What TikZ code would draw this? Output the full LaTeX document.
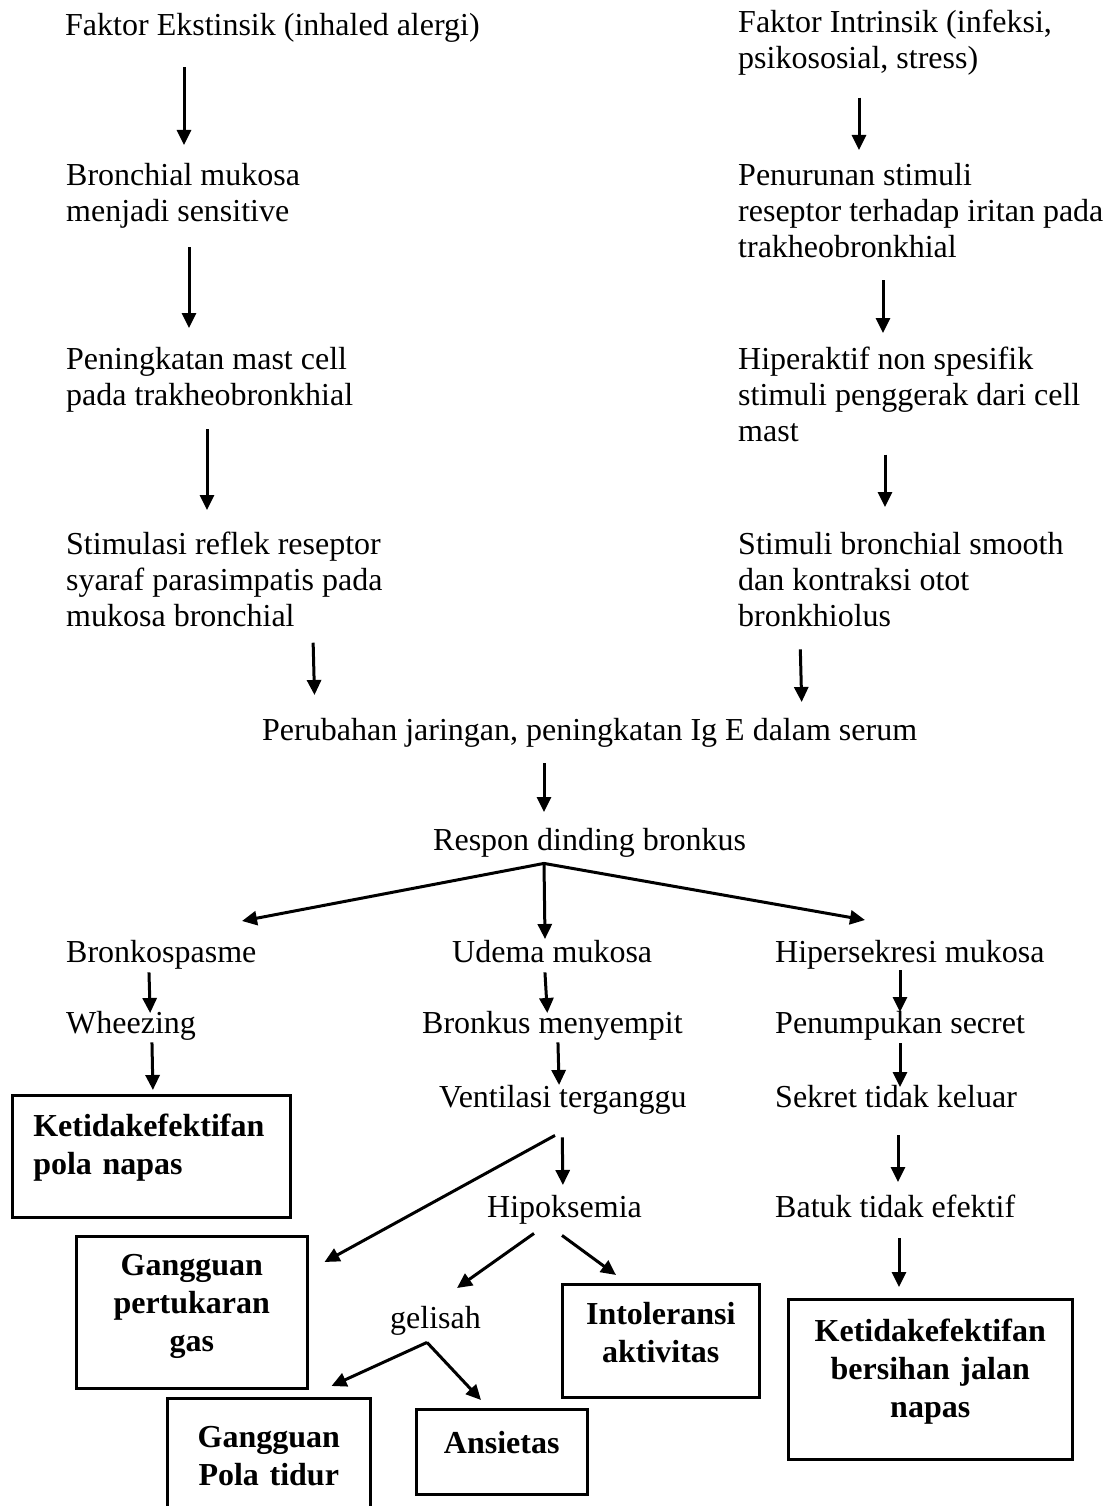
\documentclass[tikz,border=0pt]{standalone}
\usepackage{fontspec}
\setmainfont{Liberation Serif}
\usetikzlibrary{arrows.meta,calc}
\newcommand{\txtfont}{\fontsize{32}{36}\selectfont}
\newcommand{\boxfont}{\fontsize{32}{38}\selectfont\bfseries}
\tikzset{
  txt/.style={anchor=north west, inner sep=0pt, align=left, font=\txtfont,
    execute at begin node=\strut, execute at end node=\strut},
  diag/.style={draw, line width=2.5pt, anchor=north west, inner sep=0pt,
    align=center, font=\boxfont},
  arr/.style={line width=3pt, -{Triangle[length=15pt,width=14pt]}},
  gap/.style 2 args={shorten <=#1pt, shorten >=#2pt}
}
\begin{document}
\begin{tikzpicture}[x=1pt,y=-1pt]
\path[use as bounding box, fill=white] (0,0) rectangle (1113,1506);
% left column
\node[txt] (ext) at (65,9.8) {Faktor Ekstinsik (inhaled alergi)};
\node[txt] (bron) at (66,162.8) {Bronchial mukosa\\menjadi sensitive};
\node[txt] (mast) at (66,346.8) {Peningkatan mast cell\\pada trakheobronkhial};
\node[txt] (stim) at (66,531.8) {Stimulasi reflek reseptor\\syaraf parasimpatis pada\\mukosa bronchial};
% right column
\node[txt] (int) at (738,9.8) {Faktor Intrinsik (infeksi,\\psikososial, stress)};
\node[txt] (turun) at (738,162.8) {Penurunan stimuli\\reseptor terhadap iritan pada\\trakheobronkhial};
\node[txt] (hiper) at (738,346.8) {Hiperaktif non spesifik\\stimuli penggerak dari cell\\mast};
\node[txt] (smooth) at (738,531.8) {Stimuli bronchial smooth\\dan kontraksi otot\\bronkhiolus};
% middle
\node[txt] (ige) at (262,714.8) {Perubahan jaringan, peningkatan Ig E dalam serum};
\node[txt] (respon) at (433,824.8) {Respon dinding bronkus};
\node[txt] (spasme) at (66,936.8) {Bronkospasme};
\node[txt] (udema) at (452,936.8) {Udema mukosa};
\node[txt] (sekresi) at (775,936.8) {Hipersekresi mukosa};
\node[txt] (wheez) at (66,1007.8) {Wheezing};
\node[txt] (sempit) at (422,1007.8) {Bronkus menyempit};
\node[txt] (penum) at (775,1007.8) {Penumpukan secret};
\node[txt] (venti) at (439,1081.8) {Ventilasi terganggu};
\node[txt] (sekret) at (775,1081.8) {Sekret tidak keluar};
\node[txt] (hipo) at (487,1191.8) {Hipoksemia};
\node[txt] (batuk) at (775,1191.8) {Batuk tidak efektif};
\node[txt] (gelisah) at (390,1302.8) {gelisah};
% diagnosa
\node[diag, align=left, text width=236pt, inner xsep=21pt, minimum width=278pt, minimum height=122pt, text depth=62pt] (napas) at (11,1094) {Ketidakefektifan\\pola napas};
\node[diag, text width=231pt, minimum width=231pt, minimum height=152pt, text depth=94pt] (tukar) at (75,1235) {Gangguan\\pertukaran\\gas};
\node[diag, text width=203pt, minimum width=203pt, minimum height=125pt, text depth=47pt] (tidur) at (166,1397) {Gangguan\\Pola tidur};
\node[diag, text width=171pt, minimum width=171pt, minimum height=85pt, text depth=19pt] (ansi) at (415,1408) {Ansietas};
\node[diag, text width=197pt, minimum width=197pt, minimum height=113pt, text depth=55pt] (into) at (561,1283) {Intoleransi\\aktivitas};
\node[diag, text width=284pt, minimum width=284pt, minimum height=160pt, text depth=98pt] (bersih) at (787,1298) {Ketidakefektifan\\bersihan jalan\\napas};
% arrows
\draw[arr, gap={21.2}{17.8}] (ext.south -| 184,0) -- (bron.north -| 184,0);
\draw[arr, gap={15.2}{18.8}] (bron.south -| 189,0) -- (mast.north -| 189,0);
\draw[arr, gap={13.2}{21.8}] (mast.south -| 207,0) -- (stim.north -| 207,0);
\draw[arr, gap={5.2}{19.8}] (stim.south -| 313,0) -- (ige.north -| 315,0);
\draw[arr, gap={18.2}{12.8}] (int.south -| 859,0) -- (turun.north -| 859,0);
\draw[arr, gap={12.2}{13.8}] (turun.south -| 883,0) -- (hiper.north -| 883,0);
\draw[arr, gap={2.2}{24.8}] (hiper.south -| 885,0) -- (smooth.north -| 885,0);
\draw[arr, gap={12.2}{12.8}] (smooth.south -| 800,0) -- (ige.north -| 802,0);
\draw[arr, gap={12.2}{12.8}] (ige.south -| 544,0) -- (respon.north -| 544,0);
\draw[arr] ($(respon.south -| 544,0)+(0,2.2)$) -- ($(spasme.north -| 242,0)+(0,-15.8)$);
\draw[arr] ($(respon.south -| 544,0)+(0,2.2)$) -- ($(udema.north -| 545,0)+(0,2.2)$);
\draw[arr] ($(respon.south -| 544,0)+(0,2.2)$) -- ($(sekresi.north -| 865,0)+(0,-16.8)$);
\draw[arr, gap={-0.8}{-5.2}] (spasme.south -| 149,0) -- (wheez.north -| 150,0);
\draw[arr, gap={-1.8}{4}] (wheez.south -| 152,0) -- (napas.north -| 153,0);
\draw[arr, gap={-0.8}{-5.2}] (udema.south -| 545,0) -- (sempit.north -| 547,0);
\draw[arr, gap={-1.8}{-3.2}] (sempit.south -| 558,0) -- (venti.north -| 559,0);
\draw[arr, gap={-2.8}{-4.2}] (sekresi.south -| 900,0) -- (penum.north -| 900,0);
\draw[arr, gap={-0.8}{-5.2}] (penum.south -| 900,0) -- (sekret.north -| 900,0);
\draw[arr, gap={17.2}{9.8}] (sekret.south -| 898,0) -- (batuk.north -| 898,0);
\draw[arr, gap={10.2}{11}] (batuk.south -| 899,0) -- (bersih.north -| 899,0);
\draw[arr] ($(venti.south -| 555,0)+(0,17.2)$) -- ($(tukar.north east)+(16,27)$);
\draw[arr, gap={19.2}{6.8}] (venti.south -| 562,0) -- (hipo.north -| 563,0);
\draw[arr] ($(hipo.south -| 534,0)+(0,5.2)$) -- ($(gelisah.north -| 457,0)+(0,-14.8)$);
\draw[arr] ($(hipo.south -| 562,0)+(0,7.2)$) -- ($(into.north west)+(55,-8)$);
\draw[arr] ($(gelisah.south -| 427,0)+(0,3.2)$) -- ($(tidur.north east)+(-40,-11)$);
\draw[arr] ($(gelisah.south -| 427,0)+(0,3.2)$) -- ($(ansi.north west)+(66,-8)$);
\end{tikzpicture}
\end{document}
